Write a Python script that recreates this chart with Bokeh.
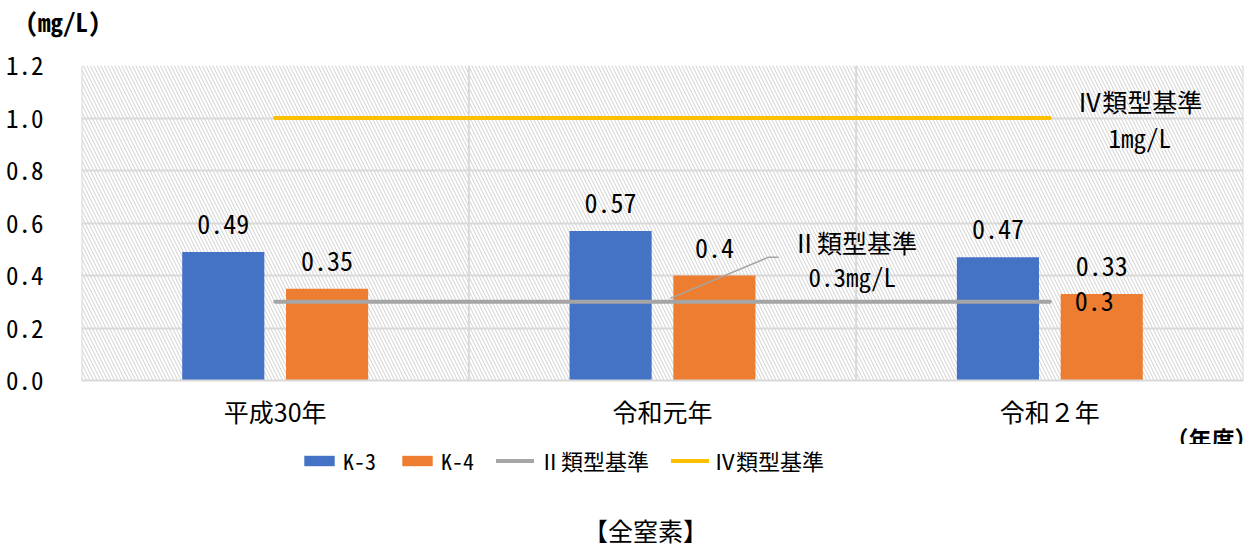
from bokeh.plotting import figure
from bokeh.layouts import column
from bokeh.models import (FactorRange, Range1d, ColumnDataSource, LabelSet, Label,
                          Legend, LegendItem, Span, BoxAnnotation, Title,
                          NumeralTickFormatter, FixedTicker)
from bokeh.transform import dodge
from bokeh.core.properties import value
from bokeh.embed import file_html
from bokeh.resources import INLINE

# --- data -------------------------------------------------------------
years = ["平成30年", "令和元年", "令和２年"]
k3 = [0.49, 0.57, 0.47]
k4 = [0.35, 0.40, 0.33]
std2 = [0.3, 0.3, 0.3]      # Ⅱ類型基準 0.3mg/L
std4 = [1.0, 1.0, 1.0]      # Ⅳ類型基準 1mg/L
k3_labels = ["0.49", "0.57", "0.47"]
k4_labels = ["0.35", "0.4", "0.33"]
std2_label = "0.3"
y_ticks = [0.0, 0.2, 0.4, 0.6, 0.8, 1.0, 1.2]

MONO = "'Noto Sans Mono CJK JP', 'Noto Sans CJK JP', sans-serif"
SANS = "'Noto Sans CJK JP', sans-serif"

BLUE = "#4472c4"
ORANGE = "#ed7d31"
GRAY = "#a5a5a5"
YELLOW = "#ffc000"
GRID = "#d9d9d9"

BAR_W = 0.212
OFF = 0.134

W = 1258
LEFT, RIGHT = 81, 15                 # plot-area borders (frames line up in the column)
TOP_H, MAIN_H = 44, 400
BOT_H = 546 - TOP_H - MAIN_H
NAN = float("nan")


def strip(h, **kw):
    """An axis-less figure whose frame lines up with the chart's plot area."""
    f = figure(width=W, height=h, x_range=Range1d(LEFT, W - RIGHT),
               y_range=Range1d(0, h), x_axis_location=None,
               y_axis_location=None, output_backend="svg",
               toolbar_location=None, min_border=0,
               outline_line_color=None, **kw)
    f.grid.visible = False
    return f


# --- unit strip --------------------------------------------------------
top = strip(TOP_H, title="(mg/L)")
top.title.align = "left"
top.title.offset = -56
top.title.standoff = 0
top.title.text_font = MONO
top.title.text_font_size = "25px"
top.title.text_font_style = "bold"
top.title.text_color = "#000000"

# --- main chart --------------------------------------------------------
src = ColumnDataSource(dict(years=years, k3=k3, k4=k4, std2=std2, std4=std4,
                            k3_labels=k3_labels, k4_labels=k4_labels))

p = figure(width=W, height=MAIN_H,
           x_range=FactorRange(*years, range_padding=0),
           y_range=Range1d(0, 1.2),
           output_backend="svg", toolbar_location=None,
           min_border_left=LEFT, min_border_right=RIGHT,
           min_border_top=65 - TOP_H, min_border_bottom=64)
p.outline_line_color = None
p.background_fill_color = "white"

# hatched plot-area background
p.add_layout(BoxAnnotation(fill_color=None, line_color=None,
                           hatch_pattern="\\", hatch_color="#d0d0d0",
                           hatch_scale=7, hatch_weight=1, level="image"))

# grid
p.ygrid.ticker = FixedTicker(ticks=y_ticks)
p.ygrid.grid_line_color = GRID
p.ygrid.grid_line_width = 2
p.xgrid.grid_line_color = None
for b in range(len(years) + 1):
    p.add_layout(Span(location=b, dimension="height", line_color=GRID,
                      line_width=2, level="underlay"))

# axes
p.yaxis.ticker = FixedTicker(ticks=y_ticks)
p.yaxis.formatter = NumeralTickFormatter(format="0.0")
p.yaxis.axis_line_color = None
p.yaxis.major_tick_line_color = None
p.yaxis.minor_tick_line_color = None
p.yaxis.major_label_standoff = 32
p.yaxis.major_label_text_font = MONO
p.yaxis.major_label_text_font_size = "25px"
p.yaxis.major_label_text_color = "#000000"

p.xaxis.axis_line_color = GRID
p.xaxis.axis_line_width = 2
p.xaxis.major_tick_line_color = None
p.xaxis.major_label_standoff = 6
p.xaxis.major_label_text_font = SANS
p.xaxis.major_label_text_font_size = "25px"
p.xaxis.major_label_text_color = "#000000"

# axis unit, right-aligned next to the category labels
p.add_layout(Title(text="（年度）", align="right", standoff=-46, offset=-14,
                   text_font=SANS, text_font_size="23px",
                   text_font_style="bold", text_color="#000000"), "below")

# bars
r3 = p.vbar(x=dodge("years", -OFF, range=p.x_range), top="k3", width=BAR_W,
            source=src, fill_color=BLUE, line_color=None)
r4 = p.vbar(x=dodge("years", OFF, range=p.x_range), top="k4", width=BAR_W,
            source=src, fill_color=ORANGE, line_color=None)

# standard lines
l2 = p.line(x="years", y="std2", source=src, line_color=GRAY, line_width=4,
            line_cap="round")
l4 = p.line(x="years", y="std4", source=src, line_color=YELLOW, line_width=4,
            line_cap="round")

# value labels
common = dict(text_font=value(MONO), text_font_size="26px", text_color="#000000",
              text_align="center", text_baseline="alphabetic", y_offset=18)
p.add_layout(LabelSet(x=dodge("years", -OFF, range=p.x_range), y="k3",
                      text="k3_labels", source=src, **common))
p.add_layout(LabelSet(x=dodge("years", OFF, range=p.x_range), y="k4",
                      text="k4_labels", source=src, **common))

last = ColumnDataSource(dict(x=[years[-1]], y=[std2[-1]], t=[std2_label]))
p.add_layout(LabelSet(x="x", y="y", text="t", source=last, x_offset=25,
                      text_font=value(MONO), text_font_size="26px",
                      text_color="#000000", text_align="left",
                      text_baseline="middle"))

# callouts for the standards
callout = dict(text_font=MONO, text_font_size="25px", text_color="#000000",
               text_align="center", text_baseline="middle")
p.add_layout(Label(x=2.732, y=1.066, text="Ⅳ類型基準", **callout))
p.add_layout(Label(x=2.732, y=0.929, text="1mg/L", **callout))
p.add_layout(Label(x=1.996, y=0.527, text="Ⅱ類型基準", **callout))
p.add_layout(Label(x=1.99, y=0.397, text="0.3mg/L", **callout))
p.line(x=[1.52, 1.774, 1.80], y=[0.313, 0.470, 0.470], line_color=GRAY,
       line_width=1.5)

# --- legend and caption strip ------------------------------------------
bot = strip(BOT_H)
# key glyphs styled like the series above (no points of their own)
g3 = bot.vbar(x=[NAN], top=[NAN], width=1, fill_color=BLUE, line_color=None)
g4 = bot.vbar(x=[NAN], top=[NAN], width=1, fill_color=ORANGE, line_color=None)
g2 = bot.line(x=[NAN], y=[NAN], line_color=GRAY, line_width=4, line_cap="round")
g5 = bot.line(x=[NAN], y=[NAN], line_color=YELLOW, line_width=4, line_cap="round")
legend = Legend(items=[LegendItem(label="K-3", renderers=[g3]),
                       LegendItem(label="K-4", renderers=[g4]),
                       LegendItem(label="Ⅱ類型基準", renderers=[g2]),
                       LegendItem(label="Ⅳ類型基準", renderers=[g5])],
                orientation="horizontal", location=(300 - LEFT, 70),
                glyph_width=38, glyph_height=13, label_standoff=5, spacing=22,
                padding=0, margin=0, border_line_color=None,
                background_fill_alpha=0,
                label_text_font=MONO, label_text_font_size="22px",
                label_text_color="#000000")
bot.add_layout(legend)
bot.add_layout(Label(x=645, y=17, text="【全窒素】", text_font=SANS,
                     text_font_size="25px", text_align="center",
                     text_baseline="middle", text_color="#000000"))

layout = column(top, p, bot, spacing=0)

with open("out.html", "w") as f:
    f.write(file_html(layout, INLINE))
